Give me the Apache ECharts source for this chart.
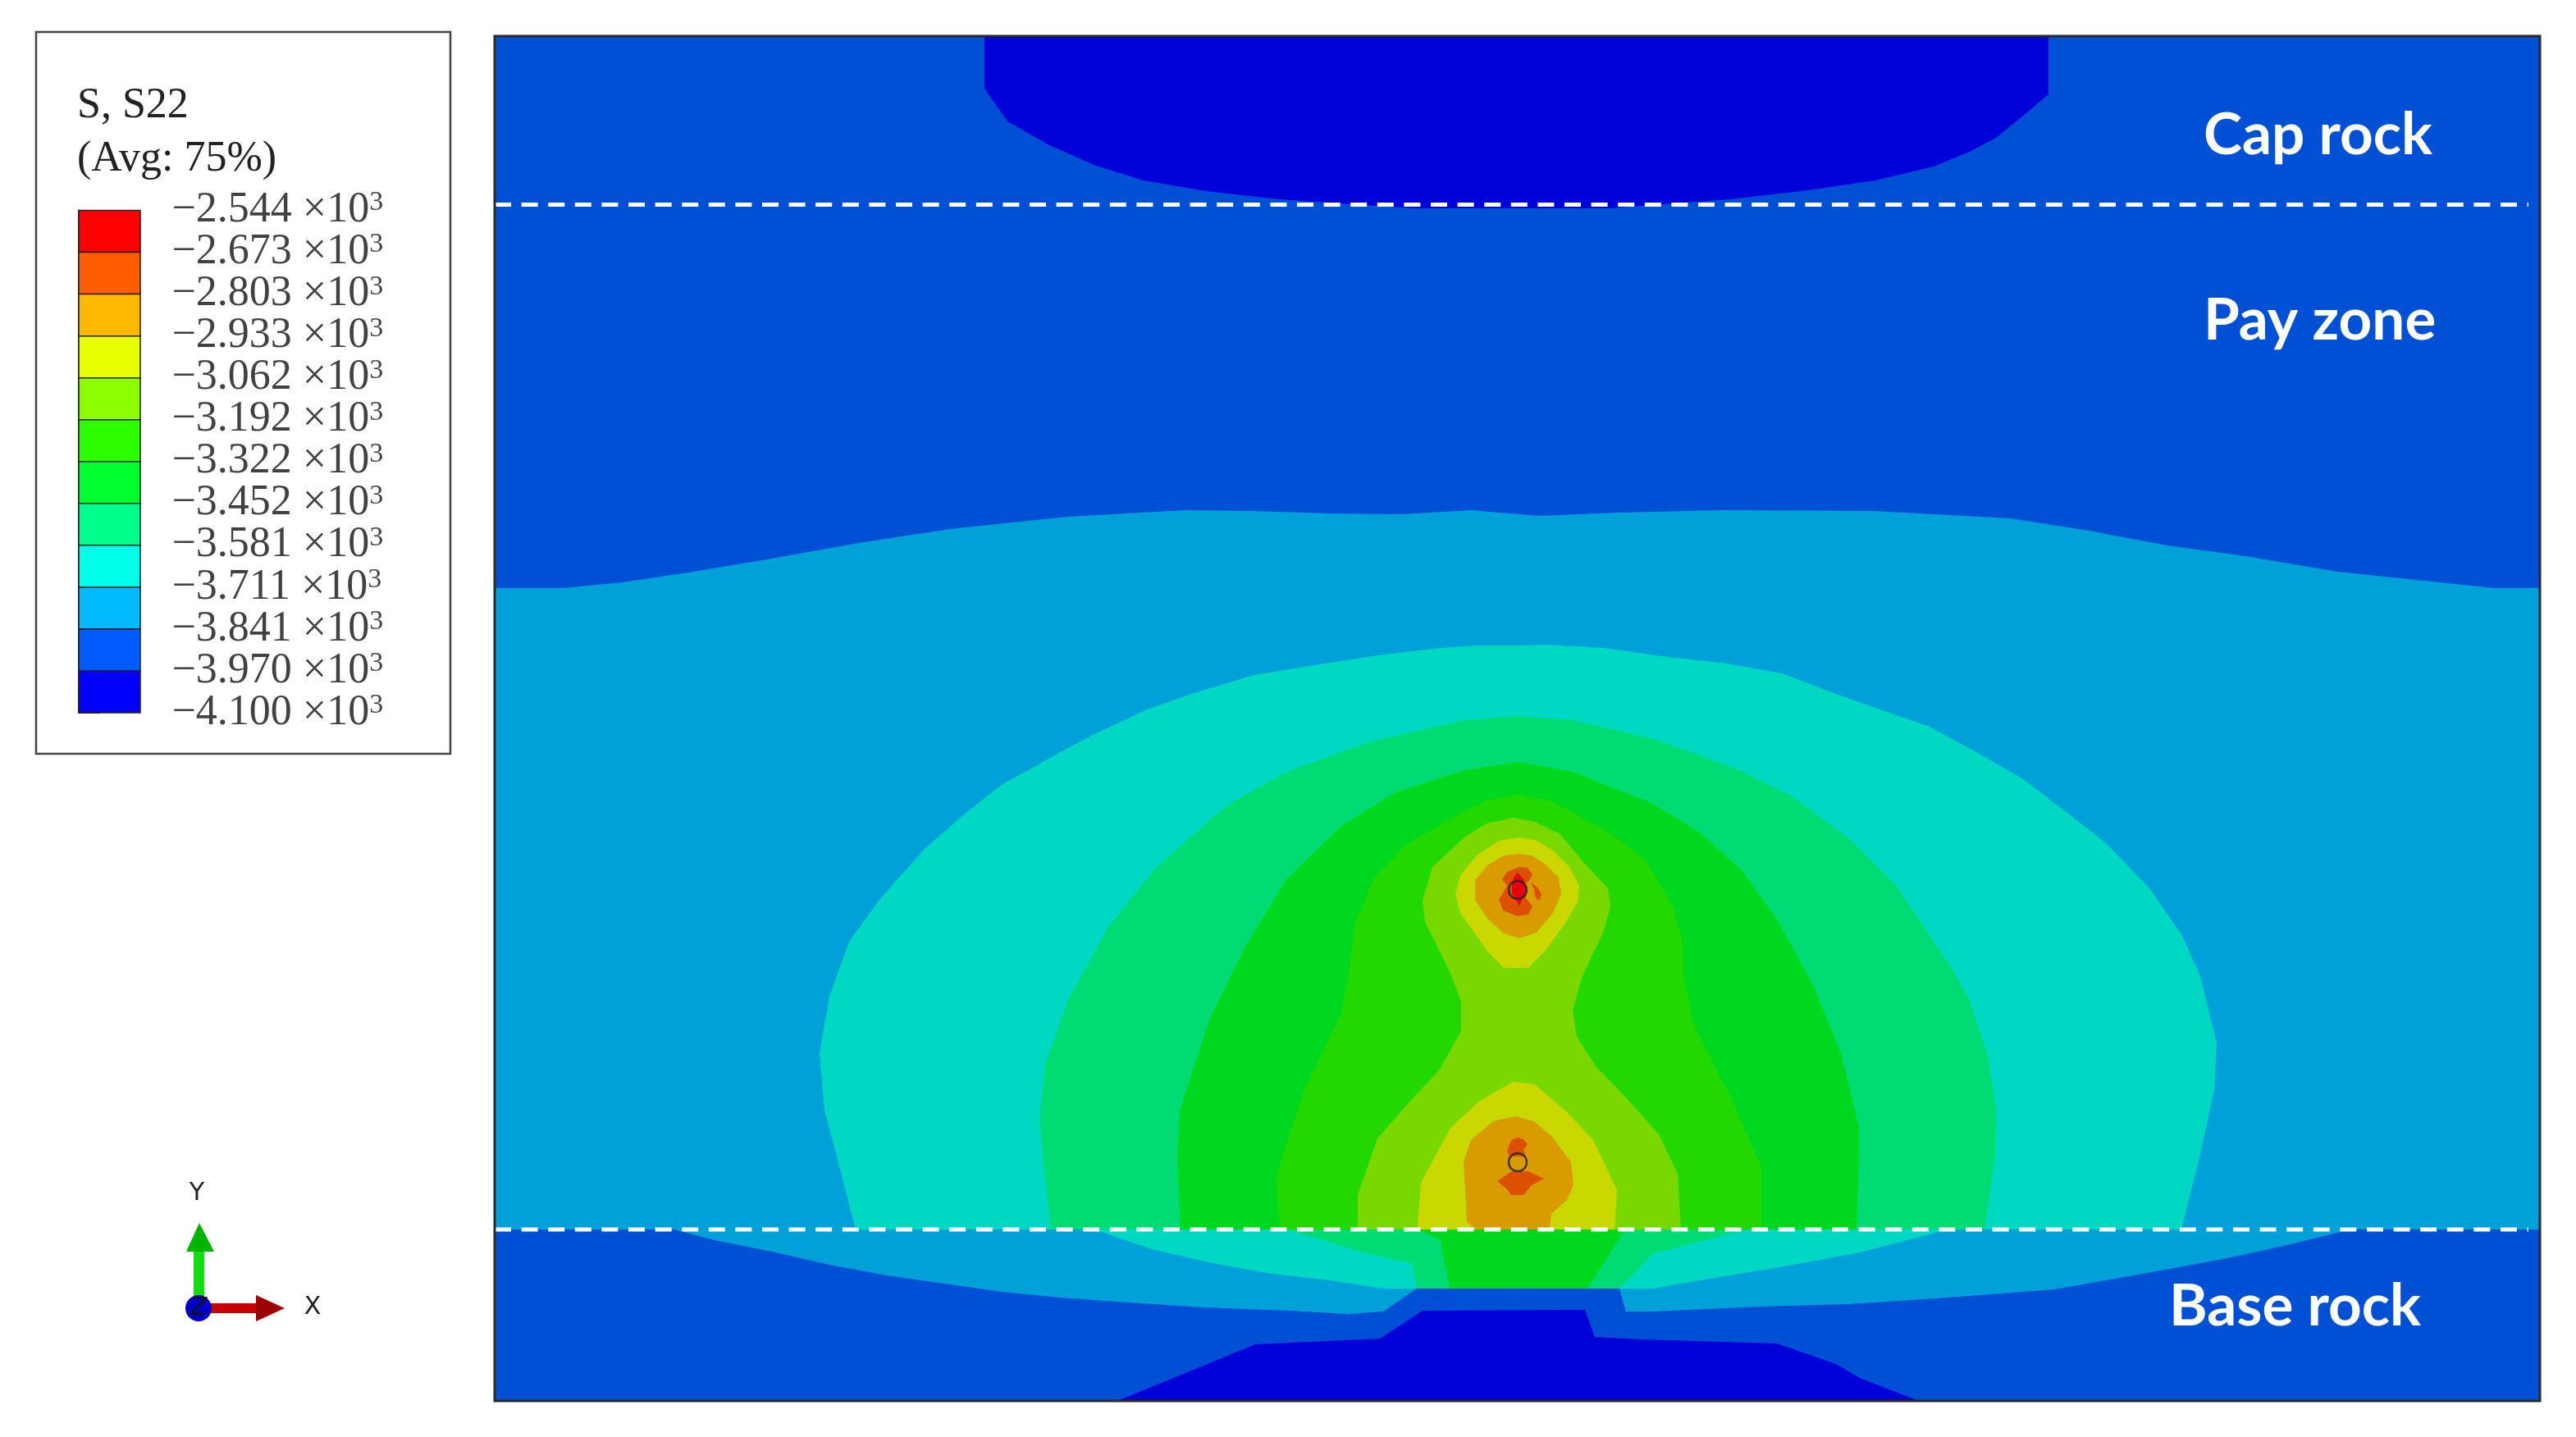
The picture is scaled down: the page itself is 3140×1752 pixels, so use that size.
<!DOCTYPE html>
<html>
<head>
<meta charset="utf-8">
<style>
  html, body { margin: 0; padding: 0; background: #fff; }
  #chart { width: 3140px; height: 1752px; }
</style>
<script src="https://cdn.jsdelivr.net/npm/echarts@6/dist/echarts.min.js"></script>
</head>
<body>
<div id="chart"></div>
<script>
// contour outlines (model units along the hidden axes)
var capDarkBlue = [[1200,44],[1200,108],[1228,148],[1279,177],[1336,202],[1394,220],[1470,233],[1559,243],[1725,254],[1961,254],[2108,243],[2204,232],[2286,220],[2357,203],[2401,185],[2433,168],[2465,142],[2497,115],[2497,44]];
var baseDarkBlue = [[1362,1708],[1530,1639],[1682,1632],[1734,1598],[1932,1597],[1944,1630],[2000,1633],[2166,1638],[2238,1663],[2267,1680],[2339,1708]];
var lightBlue = [[603,717],[688,717],[759,710],[839,698],[935,682],[1047,662],[1158,645],[1302,630],[1445,622],[1525,623],[1621,626],[1708,627],[1793,622],[1876,629],[1972,625],[2099,622],[2283,623],[2450,632],[2546,647],[2641,665],[2737,678],[2849,697],[2992,712],[3040,717],[3096,717],[3096,1499],[2865,1499],[2792,1517],[2720,1533],[2612,1553],[2504,1572],[2360,1583],[2252,1590],[2144,1593],[2014,1599],[1982,1599],[1974,1571],[1727,1571],[1686,1599],[1643,1602],[1572,1598],[1467,1594],[1362,1587],[1292,1582],[1222,1575],[1151,1565],[1081,1555],[1011,1542],[941,1526],[871,1512],[822,1499],[603,1499]];
var cyan = [[1043,1499],[1020,1410],[1005,1354],[999,1284],[1011,1215],[1035,1148],[1072,1097],[1127,1035],[1174,994],[1219,958],[1282,923],[1330,897],[1396,866],[1452,846],[1529,823],[1590,813],[1679,799],[1757,790],[1801,787],[1850,787],[1883,786],[1955,790],[2033,801],[2105,809],[2172,821],[2238,846],[2294,866],[2352,886],[2416,921],[2466,950],[2521,992],[2566,1027],[2621,1084],[2660,1141],[2682,1190],[2702,1272],[2699,1329],[2682,1407],[2659,1499],[2375,1499],[2267,1527],[2180,1543],[2072,1561],[2014,1571],[1686,1571],[1629,1562],[1544,1552],[1478,1540],[1404,1523],[1334,1499]];
var teal = [[1281,1499],[1271,1410],[1267,1366],[1274,1297],[1302,1219],[1352,1129],[1407,1060],[1471,1003],[1499,980],[1568,941],[1674,903],[1785,878],[1850,873],[1917,878],[2016,901],[2116,937],[2183,970],[2255,1023],[2311,1080],[2372,1170],[2399,1215],[2422,1284],[2433,1350],[2432,1410],[2419,1499],[2128,1499],[2016,1528],[1974,1571],[1727,1571],[1721,1540],[1661,1527],[1570,1499]];
var green = [[1439,1499],[1435,1410],[1438,1354],[1474,1243],[1518,1154],[1568,1072],[1635,1007],[1701,966],[1785,939],[1850,929],[1917,941],[2011,978],[2072,1015],[2122,1060],[2166,1121],[2211,1203],[2244,1284],[2266,1374],[2266,1410],[2263,1499],[1981,1499],[1935,1571],[1767,1571],[1756,1512],[1728,1499]];
var yellowGreen = [[1560,1499],[1556,1438],[1563,1410],[1590,1329],[1635,1235],[1646,1174],[1651,1129],[1674,1072],[1712,1031],[1779,992],[1812,976],[1850,969],[1894,978],[1961,1015],[2005,1048],[2039,1105],[2050,1145],[2053,1194],[2064,1248],[2111,1341],[2141,1410],[2147,1424],[2147,1499]];
var lime = [[1655,1499],[1655,1457],[1679,1388],[1723,1338],[1754,1305],[1781,1257],[1781,1220],[1768,1187],[1750,1150],[1737,1124],[1734,1098],[1746,1057],[1786,1020],[1812,1004],[1844,997],[1871,1002],[1902,1017],[1929,1050],[1960,1083],[1963,1105],[1955,1135],[1929,1190],[1917,1231],[1922,1264],[1946,1301],[1982,1338],[2022,1383],[2045,1431],[2049,1499]];
var yellowUpper = [[1852,1021],[1827,1025],[1800,1043],[1780,1067],[1774,1090],[1780,1113],[1797,1137],[1813,1160],[1833,1180],[1863,1180],[1883,1160],[1907,1127],[1923,1100],[1925,1080],[1913,1057],[1893,1037],[1873,1025]];
var yellowLower = [[1728,1499],[1732,1442],[1768,1375],[1804,1342],[1844,1319],[1871,1322],[1911,1357],[1942,1390],[1971,1451],[1968,1499]];
var orangeUpper = [[1852,1041],[1833,1043],[1813,1055],[1798,1073],[1798,1097],[1813,1120],[1833,1138],[1852,1144],[1873,1137],[1893,1113],[1903,1090],[1900,1070],[1883,1053],[1867,1043]];
var orangeLower = [[1788,1490],[1787,1467],[1784,1417],[1793,1390],[1820,1367],[1847,1361],[1870,1367],[1893,1387],[1915,1417],[1918,1445],[1910,1463],[1891,1480],[1889,1499],[1800,1499]];
var hotUpper = [[1852,1057],[1862,1058],[1868,1066],[1864,1074],[1858,1078],[1860,1095],[1868,1105],[1863,1115],[1850,1117],[1832,1110],[1827,1097],[1837,1080],[1831,1072],[1837,1063]];
var hotCrescent = [[1866,1076],[1874,1082],[1879,1090],[1877,1098],[1872,1095],[1870,1084]];
var hotLowerTop = [[1850,1387],[1842,1390],[1837,1403],[1840,1410],[1860,1410],[1857,1402],[1862,1395],[1857,1389]];
var hotLowerBottom = [[1825,1440],[1843,1428],[1863,1428],[1882,1437],[1867,1445],[1857,1457],[1842,1457],[1837,1450]];
var coreUpper = [[1850,1064],[1857,1072],[1860,1082],[1860,1090],[1855,1097],[1852,1105],[1848,1097],[1843,1090],[1843,1078],[1845,1070]];

var wellPoints = [[1850,1085],[1850,1417]];
var capLine = [[603,249.5],[3082,249.5]];
var baseLine = [[603,1499],[3082,1499]];

// legend
var legendTicks = ['−2.544','−2.673','−2.803','−2.933','−3.062','−3.192','−3.322','−3.452','−3.581','−3.711','−3.841','−3.970','−4.100'];
var legendColors = ['#ff0000','#ff5c00','#ffb900','#e8ff00','#8bff00','#2eff00','#00ff2e','#00ff8b','#00ffe8','#00b9ff','#005cff','#0000ff'];

// painted back to front
var contours = [
    {pts: capDarkBlue, color: '#0000d8'},
    {pts: baseDarkBlue, color: '#0000d8'},
    {pts: lightBlue, color: '#00a0d8'},
    {pts: cyan, color: '#00d8c4'},
    {pts: teal, color: '#00dc74'},
    {pts: green, color: '#00d820'},
    {pts: yellowGreen, color: '#22d800'},
    {pts: lime, color: '#78d800'},
    {pts: yellowUpper, color: '#c8d800'},
    {pts: yellowLower, color: '#c8d800'},
    {pts: orangeUpper, color: '#d89c00'},
    {pts: orangeLower, color: '#d89c00'},
    {pts: hotUpper, color: '#dc5000'},
    {pts: hotCrescent, color: '#dc5000'},
    {pts: hotLowerTop, color: '#dc5000'},
    {pts: hotLowerBottom, color: '#dc5000'},
    {pts: coreUpper, color: '#e80010'}
];

var chart = echarts.init(document.getElementById('chart'));
var labelFont = 'Lato, "Open Sans", sans-serif';
var serifFont = '"Liberation Serif", serif';

chart.setOption({
    animation: false,
    backgroundColor: '#fff',
    grid: [
        {left: 603, top: 44, width: 2493, height: 1664, show: true, backgroundColor: '#0050d6', borderWidth: 0},
        {left: 96, top: 256.5, width: 75, height: 612.5}
    ],
    xAxis: [
        {gridIndex: 0, type: 'value', min: 603, max: 3096, show: false},
        {gridIndex: 1, type: 'value', min: 0, max: 1, show: false}
    ],
    yAxis: [
        {gridIndex: 0, type: 'value', min: 44, max: 1708, inverse: true, show: false},
        {
            gridIndex: 1, type: 'value', min: 0, max: 12, interval: 1, inverse: true, position: 'right',
            axisLine: {show: true, lineStyle: {color: '#222', width: 2}},
            axisTick: {show: true, length: 26, lineStyle: {color: '#222', width: 2}},
            splitLine: {show: false},
            axisLabel: {show: false}
        }
    ],
    series: [
        {
            type: 'custom',
            xAxisIndex: 0,
            yAxisIndex: 0,
            silent: true,
            data: contours.map(function (c, i) { return [i]; }),
            renderItem: function (params, api) {
                var c = contours[params.dataIndex];
                return {
                    type: 'polygon',
                    shape: {points: c.pts.map(function (p) { return api.coord(p); })},
                    style: {fill: c.color}
                };
            }
        },
        {type: 'line', xAxisIndex: 0, yAxisIndex: 0, data: capLine, symbol: 'none', silent: true, lineStyle: {color: '#fff', width: 5, type: [20, 12.6]}},
        {type: 'line', xAxisIndex: 0, yAxisIndex: 0, data: baseLine, symbol: 'none', silent: true, lineStyle: {color: '#fff', width: 5, type: [20, 12.6]}},
        {
            type: 'scatter', xAxisIndex: 0, yAxisIndex: 0, data: wellPoints, symbol: 'circle', symbolSize: 22, silent: true,
            itemStyle: {color: 'rgba(0,0,0,0)', borderColor: '#222', borderWidth: 2.5}
        },
        {
            type: 'custom',
            xAxisIndex: 1,
            yAxisIndex: 1,
            silent: true,
            data: legendColors.map(function (c, i) { return [0, i]; }),
            renderItem: function (params, api) {
                var i = params.dataIndex;
                var a = api.coord([0, i]);
                var b = api.coord([1, i + 1]);
                return {
                    type: 'rect',
                    shape: {x: a[0], y: a[1], width: b[0] - a[0], height: b[1] - a[1]},
                    style: {fill: legendColors[i], stroke: '#222', lineWidth: 1.5}
                };
            }
        },
        {
            // tick labels sit on the colour boundaries, axis labels drop some of them
            type: 'scatter',
            xAxisIndex: 1,
            yAxisIndex: 1,
            silent: true,
            symbolSize: 1,
            itemStyle: {color: 'rgba(0,0,0,0)'},
            data: legendTicks.map(function (t, i) { return [1, i]; }),
            label: {
                show: true,
                position: 'right',
                distance: 38,
                offset: [0, 3],
                formatter: function (p) {
                    return '{m|' + legendTicks[p.dataIndex] + ' }{x|×10}{s|3}';
                },
                rich: {
                    m: {fontFamily: serifFont, fontSize: 52, color: '#111'},
                    x: {fontFamily: serifFont, fontSize: 52, color: '#111'},
                    s: {fontFamily: serifFont, fontSize: 34, color: '#111', verticalAlign: 'top'}
                }
            },
            labelLayout: {hideOverlap: false}
        }
    ],
    graphic: [
        // plot and legend frames
        {type: 'rect', z: 100, shape: {x: 603, y: 44, width: 2493, height: 1664}, style: {fill: null, stroke: '#2a2a2a', lineWidth: 3}},
        {type: 'rect', z: 100, shape: {x: 44, y: 39, width: 505, height: 880}, style: {fill: null, stroke: '#444', lineWidth: 2.5}},

        // legend heading
        {type: 'text', z: 100, x: 94, y: 129, style: {text: 'S, S22', font: '52px ' + serifFont, fill: '#222', verticalAlign: 'middle'}},
        {type: 'text', z: 100, x: 94, y: 194, style: {text: '(Avg: 75%)', font: '52px ' + serifFont, fill: '#222', verticalAlign: 'middle'}},

        // layer names
        {type: 'text', z: 100, x: 2686, y: 165, style: {text: 'Cap rock', font: 'bold 71px ' + labelFont, fill: '#fff', verticalAlign: 'middle'}},
        {type: 'text', z: 100, x: 2686, y: 391, style: {text: 'Pay zone', font: 'bold 71px ' + labelFont, fill: '#fff', verticalAlign: 'middle'}},
        {type: 'text', z: 100, x: 2644, y: 1593, style: {text: 'Base rock', font: 'bold 71px ' + labelFont, fill: '#fff', verticalAlign: 'middle'}},

        // axis triad
        {type: 'rect', z: 100, shape: {x: 236, y: 1523, width: 13, height: 60}, style: {fill: '#14dc14'}},
        {type: 'polygon', z: 100, shape: {points: [[243,1491],[261,1526],[227,1526]]}, style: {fill: '#00b400'}},
        {type: 'rect', z: 100, shape: {x: 256, y: 1589, width: 58, height: 12}, style: {fill: '#c80000'}},
        {type: 'polygon', z: 100, shape: {points: [[312,1579],[347,1595],[312,1611]]}, style: {fill: '#9c0000'}},
        {type: 'circle', z: 100, shape: {cx: 242, cy: 1595, r: 16}, style: {fill: '#0000c8'}},
        {type: 'text', z: 101, x: 242, y: 1595, style: {text: 'Z', font: 'italic 30px "DejaVu Sans", sans-serif', fill: '#111', align: 'center', verticalAlign: 'middle'}},
        {type: 'text', z: 100, x: 240, y: 1455, style: {text: 'Y', font: '30px "DejaVu Sans", sans-serif', fill: '#222', align: 'center', verticalAlign: 'middle'}},
        {type: 'text', z: 100, x: 381, y: 1594, style: {text: 'X', font: '30px "DejaVu Sans", sans-serif', fill: '#222', align: 'center', verticalAlign: 'middle'}}
    ]
});
</script>
</body>
</html>
